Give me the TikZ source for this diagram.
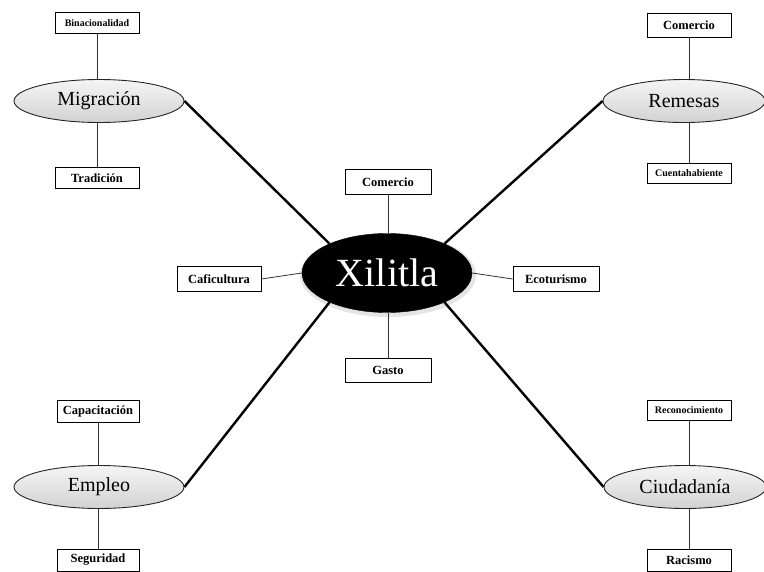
\documentclass[tikz,border=0pt]{standalone}
\usepackage{fontspec}
\setmainfont{Liberation Serif}
\usetikzlibrary{shapes.geometric}
\begin{document}
\begin{tikzpicture}[x=1pt,y=-1pt,
  topic/.style={ellipse,draw=black!85,line width=0.9pt,top color=gray!8,bottom color=gray!35,
    minimum width=170pt,minimum height=43pt,inner sep=0pt,font=\fontsize{20}{22}\selectfont},
  core/.style={ellipse,draw=black,fill=black,text=white,minimum width=170pt,minimum height=79pt,
    inner sep=0pt,font=\fontsize{40}{44}\selectfont},
  leaf/.style={draw=black,line width=0.8pt,fill=white,minimum width=84pt,minimum height=22pt,
    inner sep=0pt,font=\fontsize{12.5}{13}\selectfont\bfseries},
  tiny/.style={font=\fontsize{10}{11}\selectfont\bfseries},
  thin/.style={draw=black!80,line width=0.8pt},
  thick/.style={draw=black,line width=2.4pt}]
\useasboundingbox (0,0) rectangle (764,571);
% topics
\node[topic] (mig) at (99,101) {Migración};
\node[topic,minimum width=162pt] (rem) at (684,101) {Remesas};
\node[topic] (emp) at (99,487) {Empleo};
\node[topic,minimum width=162pt] (ciu) at (685,487) {Ciudadanía};
% center
\fill[gray!40,opacity=0.5] (388,275) ellipse (88pt and 42pt);
\node[core] (xil) at (387,273) {Xilitla};
% leaves
\node[leaf,minimum height=21pt,tiny] (bin) at (97,23) {Binacionalidad};
\node[leaf,minimum height=21pt] (tra) at (97,178) {Tradición};
\node[leaf,minimum height=24pt] (com2) at (689,25) {Comercio};
\node[leaf,minimum height=20pt,tiny] (cue) at (689,173) {Cuentahabiente};
\node[leaf,minimum width=86pt,minimum height=25pt] (com) at (388,182) {Comercio};
\node[leaf,minimum height=25pt] (caf) at (219,279) {Caficultura};
\node[leaf,minimum width=86pt,minimum height=25pt] (eco) at (556,279) {Ecoturismo};
\node[leaf,minimum width=86pt,minimum height=24pt] (gas) at (388,370) {Gasto};
\node[leaf,minimum width=82pt,minimum height=22pt] (cap) at (98,411) {Capacitación};
\node[leaf,minimum width=82pt,minimum height=22pt] (seg) at (98,560) {Seguridad};
\node[leaf,minimum height=20pt,tiny] (rec) at (689,410) {Reconocimiento};
\node[leaf,minimum height=22pt] (rac) at (689,560) {Racismo};
% thin connectors
\draw[thin] (bin) -- (bin |- mig.north);
\draw[thin] (tra) -- (tra |- mig.south);
\draw[thin] (com2) -- (com2 |- rem.north);
\draw[thin] (cue) -- (cue |- rem.south);
\draw[thin] (cap) -- (cap |- emp.north);
\draw[thin] (seg) -- (seg |- emp.south);
\draw[thin] (rec) -- (rec |- ciu.north);
\draw[thin] (rac) -- (rac |- ciu.south);
\draw[thin] (com) -- (com |- xil.north);
\draw[thin] (gas) -- (gas |- xil.south);
\draw[thin] (caf.east) -- (xil.west);
\draw[thin] (xil.east) -- (eco.west);
% thick connectors
\draw[thick] (xil.153) -- (mig.east);
\draw[thick] (xil.27) -- (rem.west);
\draw[thick] (xil.207) -- (emp.east);
\draw[thick] (xil.333) -- (ciu.west);
\end{tikzpicture}
\end{document}
